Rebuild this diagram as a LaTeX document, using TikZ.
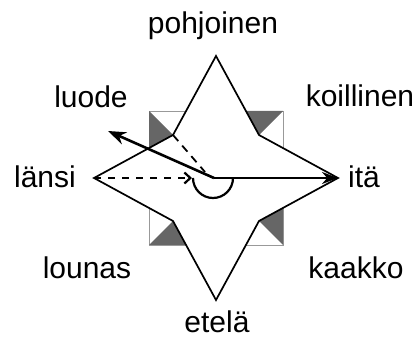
\documentclass[tikz,border=0pt]{standalone}
\usepackage{fontspec}
\setmainfont{Liberation Sans}
\usetikzlibrary{arrows.meta}

\begin{document}
\begin{tikzpicture}[x=1pt,y=-1pt,
  dirlabel/.style={anchor=base,font=\fontsize{30}{36}\selectfont},
  shade/.style={fill=black!60,draw=none},
  pointer/.style={line width=2.6pt,-{Stealth[length=18pt,width=13pt]}}]

\useasboundingbox (0,0) rectangle (418,339);

% Star points
\coordinate (n) at (216,56);
\coordinate (e) at (338,178);
\coordinate (s) at (216,300);
\coordinate (w) at (94,178);
\coordinate (ne) at (259,135);
\coordinate (se) at (259,221);
\coordinate (sw) at (173,221);
\coordinate (nw) at (173,135);
\coordinate (c) at (214,178);

% Square behind the star
\draw[black!40,line width=0.8pt] (149,111) rectangle (283,245);

% Shaded corners
\fill[shade] (149,111) -- (nw) -- (149,148) -- cycle;
\fill[shade] (283,111) -- (ne) -- (246,111) -- cycle;
\fill[shade] (283,245) -- (se) -- (283,208) -- cycle;
\fill[shade] (149,245) -- (sw) -- (186,245) -- cycle;

% Star
\draw[fill=white,line width=1.7pt,line join=miter]
  (n) -- (ne) -- (e) -- (se) -- (s) -- (sw) -- (w) -- (nw) -- cycle;

% Arrows
\draw[line width=2.2pt,dash pattern=on 7pt off 7pt,-{Straight Barb[length=6pt,width=11pt]}]
  (w) -- (192,178);
\draw[line width=1.8pt,dash pattern=on 8pt off 6pt] (nw) -- (205,172);
\draw[pointer] (c) -- (108,131);
\draw[line width=2.4pt,-{Stealth[length=16pt,width=12pt]}] (c) -- (e);

% Angle arc
\draw[line width=2.2pt] (193,178) arc[start angle=180,end angle=0,radius=20];

% Labels
\node[dirlabel] (pohjoinen) at (213,34) {pohjoinen};
\node[dirlabel] (koillinen) at (360,107) {koillinen};
\node[dirlabel] (luode) at (91,108) {luode};
\node[dirlabel] (lansi) at (45,188) {länsi};
\node[dirlabel] (ita) at (364,188) {itä};
\node[dirlabel] (lounas) at (87,279) {lounas};
\node[dirlabel] (kaakko) at (356,279) {kaakko};
\node[dirlabel] (etela) at (217,332) {etelä};

\end{tikzpicture}
\end{document}
